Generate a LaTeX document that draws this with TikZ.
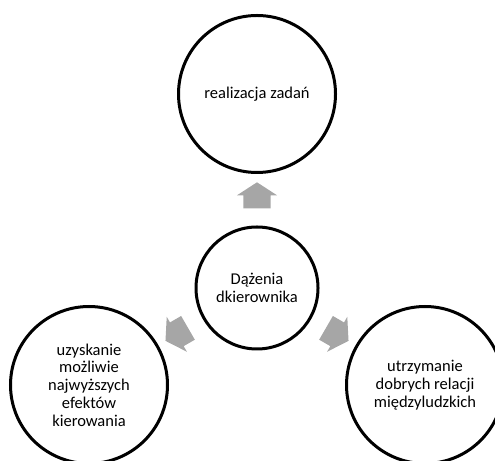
\documentclass[tikz,border=0pt]{standalone}
\usepackage{fontspec}
\setmainfont{Carlito}
\usetikzlibrary{shapes.arrows}
\definecolor{arrowgray}{RGB}{166,166,166}

\begin{document}
\begin{tikzpicture}[x=1bp,y=1bp,
    goal/.style={circle,draw=black,line width=3bp,minimum size=157bp,inner sep=0pt,
      align=center,font=\fontsize{16.5bp}{17.7bp}\selectfont},
    blockarrow/.style={single arrow,fill=arrowgray,draw=none,inner xsep=0pt,inner ysep=13.5bp,
      minimum height=26bp,single arrow head extend=6.5bp,
      single arrow tip angle=114,sloped,allow upside down}]
    \useasboundingbox (0,0) rectangle (495,461);

    \node[goal,minimum size=122bp] (centre) at (257,173) {Dążenia\\dkierownika};
    \node[goal] (task) at (257,367) {realizacja zadań};
    \node[goal] (result) at (89,76) {uzyskanie\\możliwie\\najwyższych\\efektów\\kierowania};
    \node[goal] (relations) at (425,76) {utrzymanie\\dobrych relacji\\międzyludzkich};

    \path (centre) edge[draw=none] node[blockarrow] {} (task)
    edge[draw=none] node[blockarrow] {} (result)
    edge[draw=none] node[blockarrow] {} (relations);
  \end{tikzpicture}
\end{document}
